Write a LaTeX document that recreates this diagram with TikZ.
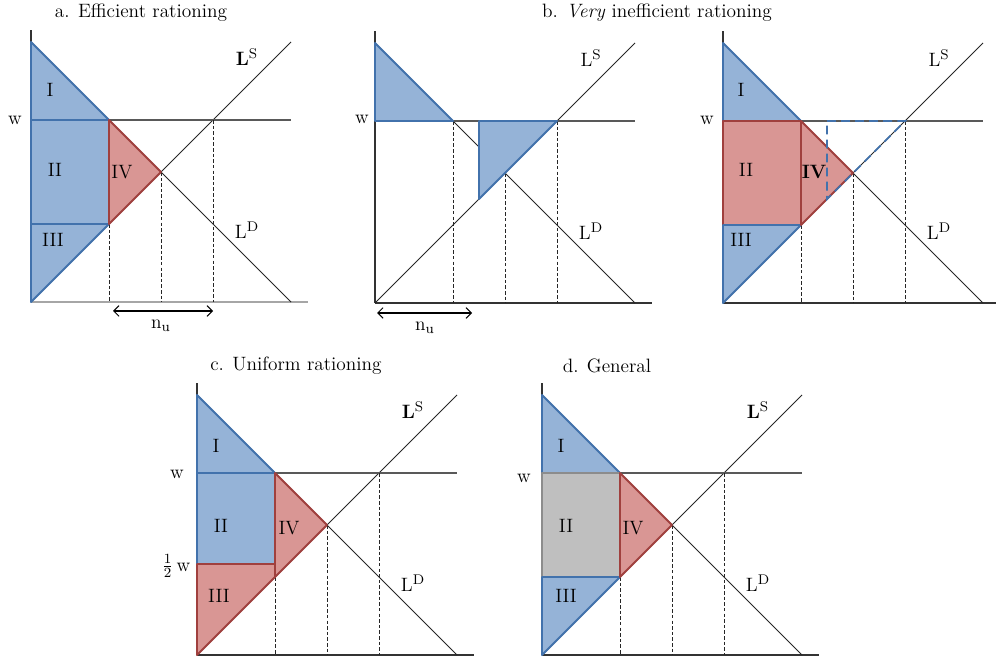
\documentclass[tikz,border=0pt]{standalone}
\usepackage{tikz}
\usetikzlibrary{arrows.meta}

\definecolor{areablue}{HTML}{95B3D7}
\definecolor{edgeblue}{HTML}{4272AC}
\definecolor{areared}{HTML}{D99694}
\definecolor{edgered}{HTML}{A0403E}
\definecolor{areagray}{HTML}{BFBFBF}
\definecolor{edgegray}{HTML}{8C8C8C}

\begin{document}
\begin{tikzpicture}[
  x=0.02cm, y=0.02cm,
  axis/.style={line width=0.6pt, black!80},
  curve/.style={line width=0.55pt, black!85},
  wline/.style={line width=0.6pt, black!65},
  guide/.style={dash pattern=on 2pt off 1.2pt, line width=0.5pt, black!85},
  bluearea/.style={fill=areablue, draw=edgeblue, line width=1.1pt, line join=round},
  redarea/.style={fill=areared, draw=edgered, line width=1.1pt, line join=round},
  grayarea/.style={fill=areagray, draw=edgegray, line width=1.1pt, line join=round},
  ghost/.style={draw=edgeblue, dash pattern=on 5pt off 3pt, line width=1pt},
  nuarrow/.style={{Straight Barb[length=3pt,width=6pt]}-{Straight Barb[length=3pt,width=6pt]}, line width=0.6pt},
  lab/.style={inner sep=1pt, font=\fontsize{11}{13}\selectfont},
  title/.style={inner sep=1pt, font=\fontsize{11}{13}\selectfont}
]
\useasboundingbox (0,0) rectangle (996,659);

% Common axes, curves and guides of the five panels
\foreach \p/\ox/\oy/\dt/\ls/\ax in {a/31/357/78/\textbf{L}/black!35, b/375/356/182/L/black!80, e/723/356/78/L/black!80, c/197/4/78/\textbf{L}/black!80, d/542/4/78/\textbf{L}/black!80} {
  \begin{scope}[shift={(\ox,\oy)}]
    \coordinate (\p-O) at (0,0);
    \coordinate (\p-top) at (0,260);
    \coordinate (\p-w0) at (0,182);
    \coordinate (\p-s0) at (0,78);
    \coordinate (\p-dw) at (78,182);
    \coordinate (\p-sw) at (182,182);
    \coordinate (\p-eq) at (130,130);
    \coordinate (\p-sn) at (78,78);
    \coordinate (\p-gw) at (104,182);
    \coordinate (\p-gs) at (104,104);
    \draw[axis] (\p-O) -- (0,272);
    \draw[axis, \ax] (\p-O) -- (277,0);
    \draw[curve] (\p-top) -- (260,0);
    \draw[curve] (\p-O) -- (260,260);
    \draw[wline] (\p-w0) -- (260,182);
    \draw[guide] (78,\dt) -- (78,0);
    \draw[guide] (\p-eq) -- (130,0);
    \draw[guide] (\p-sw) -- (182,0);
    \node[lab] (\p-LS) at (216,245) {\ls$^{\mathrm{S}}$};
    \node[lab] (\p-LD) at (216,72) {L$^{\mathrm{D}}$};
  \end{scope}
}

% a. Efficient rationing
\draw[bluearea] (a-top) -- (a-w0) -- (a-dw) -- cycle;
\draw[bluearea] (a-w0) rectangle (a-sn);
\draw[bluearea] (a-s0) -- (a-sn) -- (a-O) -- cycle;
\draw[redarea] (a-dw) -- (a-eq) -- (a-sn) -- cycle;
\node[lab] (a-I) at (50,569) {I};
\node[lab] (a-II) at (55,489) {II};
\node[lab] (a-III) at (53,419) {III};
\node[lab] (a-IV) at (122,487) {IV};
\node[lab] (a-w) at (15,539) {w};
\coordinate (a-nl) at (113,348);
\coordinate (a-nr) at (213,348);
\draw[nuarrow] (a-nl) -- (a-nr);
\node[lab] (a-nu) at (161,333) {n$_{\mathrm{u}}$};
\node[title] (a-title) at (141,646) {a. Efficient rationing};

% b. Very inefficient rationing
\draw[bluearea] (b-top) -- (b-w0) -- (b-dw) -- cycle;
\draw[bluearea] (b-gw) -- (b-sw) -- (b-gs) -- cycle;
\node[lab] (b-w) at (362,540) {w};
\coordinate (b-nl) at (377,346);
\coordinate (b-nr) at (472,346);
\draw[nuarrow] (b-nl) -- (b-nr);
\node[lab] (b-nu) at (425,331) {n$_{\mathrm{u}}$};
\node[title] (b-title) at (657,646) {b. \textit{Very} inefficient rationing};

% b. second panel
\draw[bluearea] (e-top) -- (e-w0) -- (e-dw) -- cycle;
\draw[redarea] (e-w0) rectangle (e-sn);
\draw[bluearea] (e-s0) -- (e-sn) -- (e-O) -- cycle;
\draw[redarea] (e-dw) -- (e-eq) -- (e-sn) -- cycle;
\draw[ghost] (e-gw) -- (e-sw) -- (e-gs) -- cycle;
\node[lab] (e-I) at (741,569) {I};
\node[lab] (e-II) at (746,489) {II};
\node[lab] (e-III) at (741,419) {III};
\node[lab] (e-IV) at (814,487) {\textbf{IV}};
\node[lab] (e-w) at (707,539) {w};

% c. Uniform rationing
\coordinate (c-h0) at (197,95);
\coordinate (c-hn) at (275,95);
\draw[bluearea] (c-top) -- (c-w0) -- (c-dw) -- cycle;
\draw[bluearea] (c-w0) rectangle (c-hn);
\draw[redarea] (c-O) -- (c-h0) -- (c-hn) -- (c-sn) -- cycle;
\draw[redarea] (c-dw) -- (c-eq) -- (c-sn) -- cycle;
\node[lab] (c-I) at (216,213) {I};
\node[lab] (c-II) at (221,133) {II};
\node[lab] (c-III) at (219,63) {III};
\node[lab] (c-IV) at (289,131) {IV};
\node[lab] (c-w) at (177,185) {w};
\node[lab] (c-half) at (176,93) {$\frac{1}{2}$\,w};
\node[title] (c-title) at (296,293) {c. Uniform rationing};

% d. General
\draw[bluearea] (d-top) -- (d-w0) -- (d-dw) -- cycle;
\draw[grayarea] (d-w0) rectangle (d-sn);
\draw[bluearea] (d-s0) -- (d-sn) -- (d-O) -- cycle;
\draw[redarea] (d-dw) -- (d-eq) -- (d-sn) -- cycle;
\node[lab] (d-I) at (561,213) {I};
\node[lab] (d-II) at (566,133) {II};
\node[lab] (d-III) at (566,63) {III};
\node[lab] (d-IV) at (633,131) {IV};
\node[lab] (d-w) at (524,181) {w};
\node[title] (d-title) at (607,293) {d. General};

\end{tikzpicture}
\end{document}
